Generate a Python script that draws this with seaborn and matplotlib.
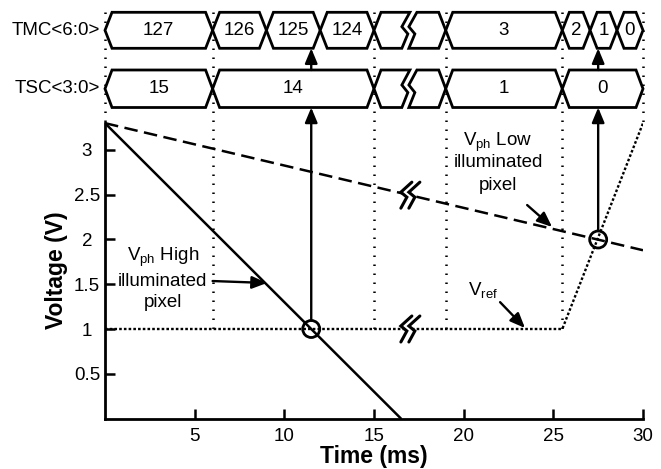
import numpy as np
import pandas as pd
import matplotlib
matplotlib.use("Agg")
import matplotlib.pyplot as plt
from matplotlib.patches import Polygon
import seaborn as sns

# ---------------- data ----------------
t_high = [0.0, 16.5]          # Vph high illuminated pixel (solid)
v_high = [3.3, 0.0]
t_low = [0.0, 30.0]           # Vph low illuminated pixel (dashed)
v_low = [3.3, 1.88]
t_ref = [0.0, 25.5, 30.0]     # Vref (dotted)
v_ref = [1.0, 1.0, 3.3]
cross_t = [11.5, 27.5]        # comparator crossings
cross_v = [1.0, 2.0]
grid_t = [0, 6, 15, 19, 25.5, 30]   # dotted timing markers

tmc_edges_a = [0, 6, 9, 12, 15]
tmc_labels_a = ["127", "126", "125", "124"]
tmc_edges_b = [19, 25.5, 27.05, 28.55, 30]
tmc_labels_b = ["3", "2", "1", "0"]
tsc_edges_a = [0, 6, 15]
tsc_labels_a = ["15", "14"]
tsc_edges_b = [19, 25.5, 30]
tsc_labels_b = ["1", "0"]
break_t = 17.0

x_ticks = [5, 10, 15, 20, 25, 30]
y_ticks = [0.5, 1, 1.5, 2, 2.5, 3]

# ---------------- style ----------------
sns.set_theme(style="white")
plt.rcParams["font.family"] = ["Liberation Sans", "DejaVu Sans"]
plt.rcParams["text.color"] = "black"
plt.rcParams["mathtext.fontset"] = "custom"
plt.rcParams["mathtext.rm"] = "Liberation Sans"
plt.rcParams["mathtext.it"] = "Liberation Sans:italic"
plt.rcParams["mathtext.bf"] = "Liberation Sans:bold"

W, H = 661, 469
fig = plt.figure(figsize=(W / 100, H / 100), dpi=100)
ax = fig.add_axes([105 / W, (H - 418.5) / H, 538 / W, 418.5 / H])
XS = 30 / 538.0      # ms per pixel
YS = 1 / 89.5        # V per pixel
ax.set_xlim(0, 30)
ax.set_ylim(0, 418.5 * YS)

FS = 13.5

# dotted timing verticals
for t in grid_t:
    y_end = 3.3 if t in (0, 30) else 1.0
    ax.plot([t, t], [4.54, y_end], color="black", lw=1.8,
            linestyle=(0, (0.6, 3.0)), zorder=1, clip_on=False)

# curves
sns.lineplot(x=t_high, y=v_high, ax=ax, color="black", linewidth=1.8,
             estimator=None, sort=False, zorder=3)
sns.lineplot(x=t_low, y=v_low, ax=ax, color="black", linewidth=1.8,
             estimator=None, sort=False, linestyle=(0, (5.4, 2.6)), zorder=3)
sns.lineplot(x=t_ref, y=v_ref, ax=ax, color="black", linewidth=1.7,
             estimator=None, sort=False, linestyle=(0, (1.1, 0.9)), zorder=3)
sns.scatterplot(x=cross_t, y=cross_v, ax=ax, s=150, marker="o",
                facecolor="none", edgecolor="black", linewidth=2.0, zorder=6)

# ---------------- bus rows ----------------
S = 7 * XS
ZZ = [(0, 0.0), (-8, 0.4), (-2, 0.6), (-8, 1.0)]


def poly(pts):
    ax.add_patch(Polygon(pts, closed=True, fc="white", ec="black", lw=2.0,
                         joinstyle="miter", zorder=4, clip_on=False))


def hexseg(a, b, yt, yb):
    ym = (yt + yb) / 2
    poly([(a, ym), (a + S, yt), (b - S, yt), (b, ym), (b - S, yb), (a + S, yb)])


def left_piece(a, x0, yt, yb):
    ym = (yt + yb) / 2
    pts = [(a, ym), (a + S, yt)]
    for dx, f in ZZ:
        pts.append((x0 + dx * XS, yt - f * (yt - yb)))
    pts.append((a + S, yb))
    poly(pts)


def right_piece(x1, b, yt, yb):
    ym = (yt + yb) / 2
    pts = []
    for dx, f in ZZ:
        pts.append((x1 + dx * XS, yt - f * (yt - yb)))
    pts += [(b - S, yb), (b, ym), (b - S, yt)]
    poly(pts)


def bus(edges_a, labels_a, edges_b, labels_b, yt, yb, name):
    ym = (yt + yb) / 2
    for i, lab in enumerate(labels_a):
        a, b = edges_a[i], edges_a[i + 1]
        hexseg(a, b, yt, yb)
        ax.text((a + b) / 2, ym, lab, ha="center", va="center", fontsize=FS, zorder=5)
    left_piece(edges_a[-1], break_t, yt, yb)
    right_piece(break_t + 7 * XS, edges_b[0], yt, yb)
    for i, lab in enumerate(labels_b):
        a, b = edges_b[i], edges_b[i + 1]
        hexseg(a, b, yt, yb)
        ax.text((a + b) / 2, ym, lab, ha="center", va="center", fontsize=FS, zorder=5)
    ax.text(-0.28, ym, name, ha="right", va="center", fontsize=FS)


TMC_T, TMC_B = (418.5 - 12.3) * YS, (418.5 - 48.3) * YS
TSC_T, TSC_B = (418.5 - 70) * YS, (418.5 - 107.5) * YS
bus(tmc_edges_a, tmc_labels_a, tmc_edges_b, tmc_labels_b, TMC_T, TMC_B, "TMC<6:0>")
bus(tsc_edges_a, tsc_labels_a, tsc_edges_b, tsc_labels_b, TSC_T, TSC_B, "TSC<3:0>")

# ---------------- arrows ----------------
AP = dict(arrowstyle="-|>,head_length=0.6,head_width=0.25", color="black",
          lw=1.7, shrinkA=0, shrinkB=0, mutation_scale=15)
for t, v in zip(cross_t, cross_v):
    ax.annotate("", xy=(t, TSC_B), xytext=(t, v + 8.5 * YS), arrowprops=AP, zorder=5)
    ax.annotate("", xy=(t, TMC_B), xytext=(t, TSC_T), arrowprops=AP, zorder=5)

ax.annotate("", xy=(9.03, 1.514), xytext=(6.0, 1.536), arrowprops=AP)
ax.annotate("", xy=(24.93, 2.14), xytext=(23.54, 2.385), arrowprops=AP)
ax.annotate("", xy=(23.42, 1.011), xytext=(22.03, 1.30), arrowprops=AP)

# annotation texts
ax.text(3.23, 1.80, r"V$_{\mathrm{ph}}$ High", ha="center", va="center", fontsize=FS)
ax.text(3.23, 1.535, "illuminated", ha="center", va="center", fontsize=FS)
ax.text(3.23, 1.30, "pixel", ha="center", va="center", fontsize=FS)
ax.text(21.92, 3.09, r"V$_{\mathrm{ph}}$ Low", ha="center", va="center", fontsize=FS)
ax.text(21.92, 2.855, "illuminated", ha="center", va="center", fontsize=FS)
ax.text(21.92, 2.60, "pixel", ha="center", va="center", fontsize=FS)
ax.text(21.08, 1.436, r"V$_{\mathrm{ref}}$", ha="center", va="center", fontsize=FS)


# ---------------- break marks on curves ----------------
def break_mark(xc, yc):
    s1 = [(0, 13), (-11, 3), (-5, -2), (-11, -13)]
    s2 = [(dx + 8, dy) for dx, dy in s1]
    s1 = [(dx + 2, dy) for dx, dy in s1]
    s2 = [(dx + 2, dy) for dx, dy in s2]
    p1 = [(xc + dx * XS, yc + dy * YS) for dx, dy in s1]
    p2 = [(xc + dx * XS, yc + dy * YS) for dx, dy in s2]
    ax.add_patch(Polygon(p1 + p2[::-1], closed=True, fc="white", ec="none", zorder=4))
    for p in (p1, p2):
        ax.plot([q[0] for q in p], [q[1] for q in p], color="black", lw=2.2,
                solid_joinstyle="miter", zorder=5)


break_mark(17.0, 3.3 - (3.3 - 1.88) / 30 * 17.0)
break_mark(17.0, 1.0)

# ---------------- axes ----------------
for side in ("top", "right"):
    ax.spines[side].set_visible(False)
for side in ("left", "bottom"):
    ax.spines[side].set_color("black")
    ax.spines[side].set_linewidth(2.0)
ax.spines["left"].set_bounds(0, 3.3)
ax.spines["bottom"].set_bounds(0, 30)
ax.set_xticks(x_ticks)
ax.set_yticks(y_ticks)
ax.set_xticklabels([str(v) for v in x_ticks])
ax.set_yticklabels([f"{v:g}" for v in y_ticks])
ax.tick_params(axis="both", direction="in", length=7, width=1.8, color="black",
               labelsize=FS, labelcolor="black", bottom=True, left=True)
ax.tick_params(axis="x", pad=7)
ax.tick_params(axis="y", pad=13)
for lab in ax.get_yticklabels():
    lab.set_horizontalalignment("center")

ax.text(15, (418.5 - 456) * YS, "Time (ms)", ha="center", va="center",
        fontsize=16.5, fontweight="bold")
ax.text((57 - 105) * XS, (418.5 - 270) * YS, "Voltage (V)", rotation=90,
        ha="center", va="center", fontsize=16.5, fontweight="bold")

fig.savefig("out.png", dpi=100)
